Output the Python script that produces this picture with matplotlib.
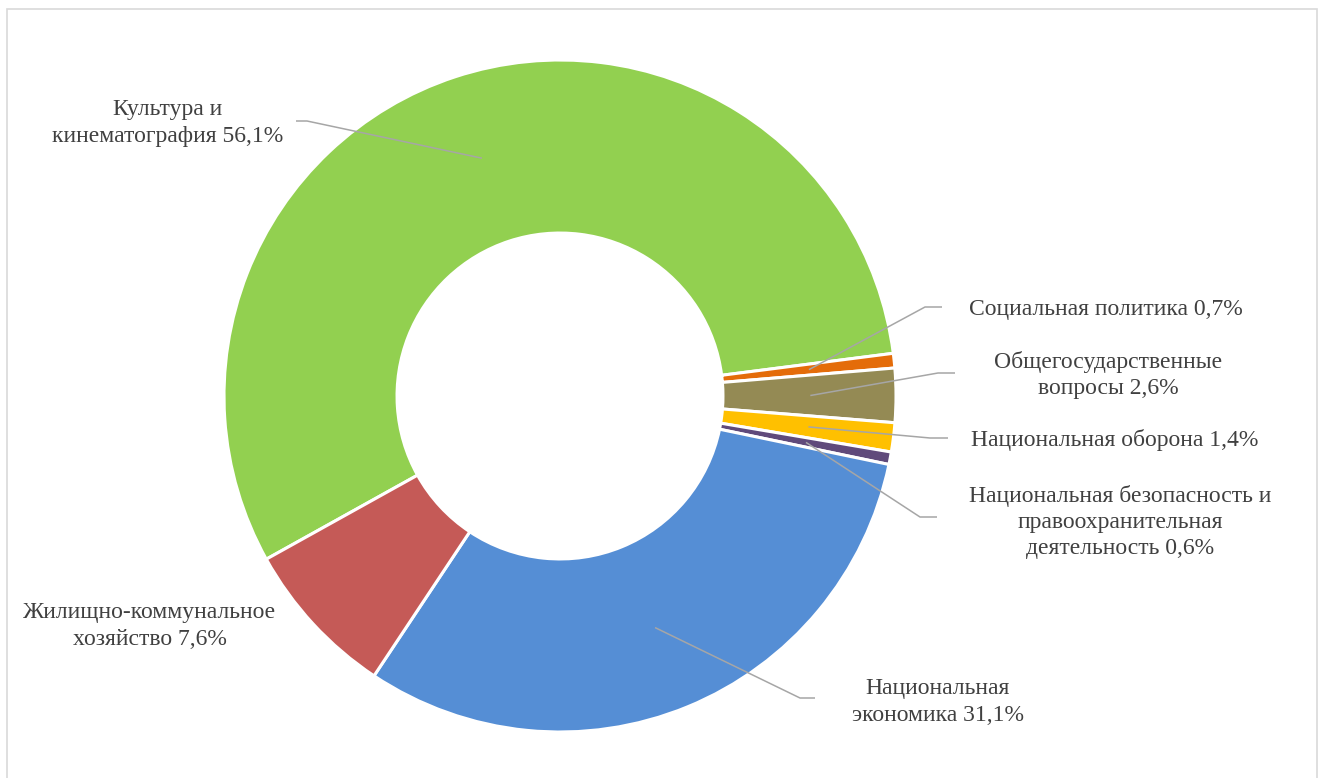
import matplotlib.pyplot as plt
import numpy as np
from matplotlib.patches import Rectangle

# data
labels = ["Культура и\nкинематография 56,1%",
          "Социальная политика 0,7%",
          "Общегосударственные\nвопросы 2,6%",
          "Национальная оборона 1,4%",
          "Национальная безопасность и\nправоохранительная\nдеятельность 0,6%",
          "Национальная\nэкономика 31,1%",
          "Жилищно-коммунальное\nхозяйство 7,6%"]
shares = [56.1, 0.7, 2.6, 1.4, 0.6, 31.1, 7.6]
colors = ["#92D050", "#E46C0A", "#948A54", "#FFC000", "#604A7B", "#558ED5", "#C55A57"]

W, H = 1325, 778
plt.rcParams['font.family'] = ['Liberation Serif', 'DejaVu Serif']

fig = plt.figure(figsize=(W / 100, H / 100), dpi=100)
ax = fig.add_axes([0, 0, 1, 1])

# chart frame
ax.add_patch(Rectangle((7, -10), 1310, H - 9 + 10, fill=False, ec="#D9D9D9", lw=1.2))

cx, cy, R = 560, H - 396, 336
start = 7.3 + 360 * shares[0] / sum(shares)
wedges, _ = ax.pie(shares, colors=colors, startangle=start, counterclock=False,
                   center=(cx, cy), radius=R, frame=True,
                   wedgeprops=dict(width=R * 0.515, edgecolor="white", linewidth=2.2))
ax.set_xlim(0, W)
ax.set_ylim(0, H)
ax.set_aspect('equal')
ax.axis('off')

# label layout in pixels (x, y from top): text centre, line end, elbow
layout = [
    ((168, 123), (296, 121), (307, 121)),
    ((1106, 309), (942, 307), (925, 307)),
    ((1108, 375), (955, 373), (938, 373)),
    ((1115, 440), (948, 438), (930, 438)),
    ((1120, 522), (937, 517), (920, 517)),
    ((938, 702), (815, 698), (800, 698)),
    ((150, 626), None, None),
]

for w, lab, (tpos, lend, elbow) in zip(wedges, labels, layout):
    ax.text(tpos[0], H - tpos[1], lab, ha="center", va="center", fontsize=17,
            color="#404040", linespacing=1.32)
    if lend is None:
        continue
    mid = np.deg2rad((w.theta1 + w.theta2) / 2)
    r0 = R * 0.745
    sx, sy = cx + r0 * np.cos(mid), cy + r0 * np.sin(mid)
    ax.plot([sx, elbow[0], lend[0]], [sy, H - elbow[1], H - lend[1]],
            color="#A6A6A6", lw=1.1, solid_capstyle="butt")

fig.savefig("out.png", dpi=100)
